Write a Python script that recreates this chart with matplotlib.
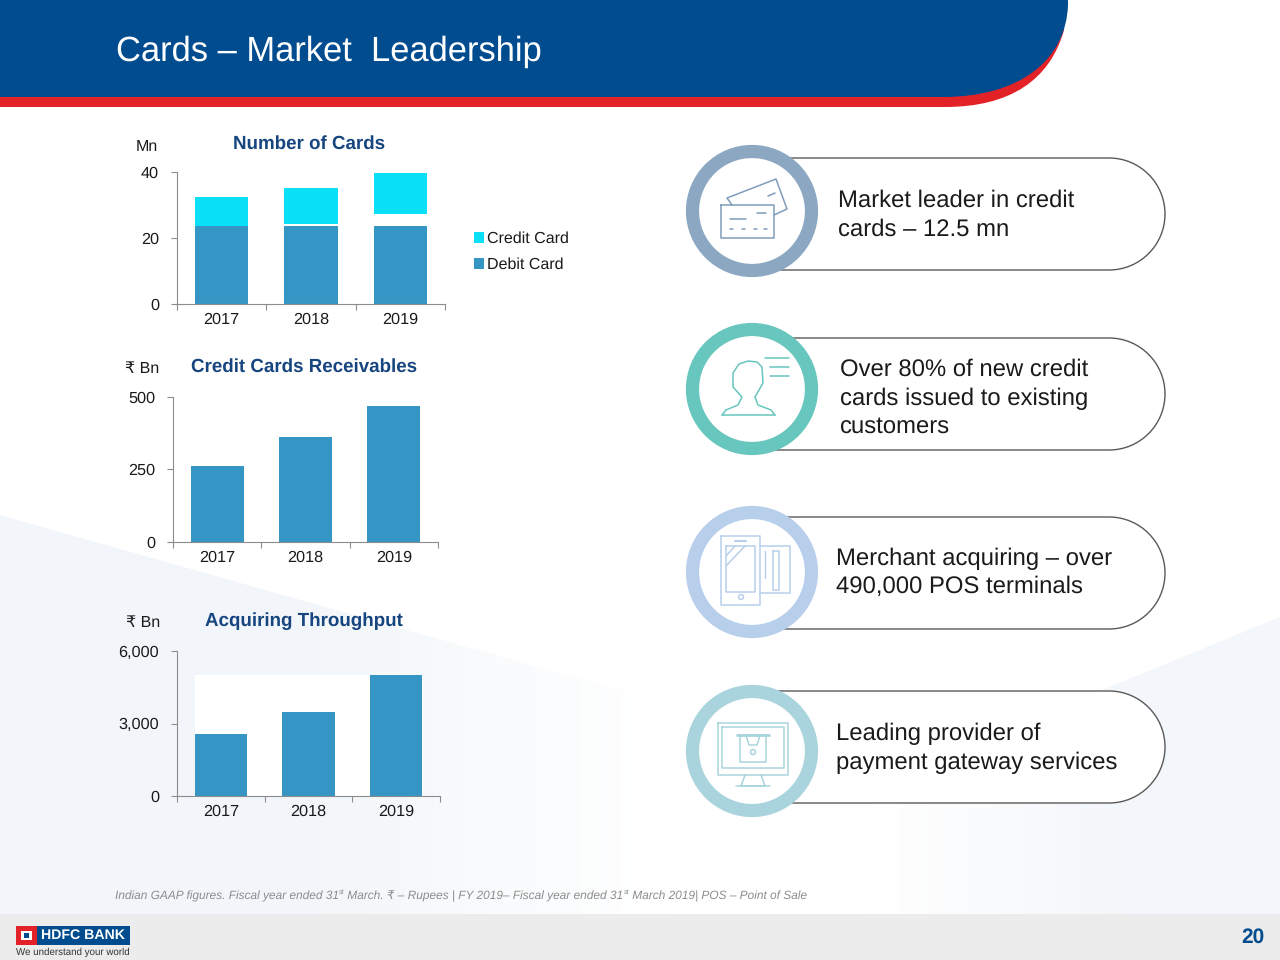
"""Cards - Market Leadership slide."""

import matplotlib
matplotlib.use('Agg')
import matplotlib.pyplot as plt
import numpy as np
from matplotlib.colors import LinearSegmentedColormap
from matplotlib.patches import Circle, PathPatch, Polygon, Rectangle
from matplotlib.path import Path

plt.rcParams['font.family'] = ['Liberation Sans', 'DejaVu Sans']
plt.rcParams['text.hinting'] = 'no_hinting'

years = ['2017', '2018', '2019']
debit_cards = [23.5, 23.5, 23.5]
credit_bottom = [23.5, 24.1, 27.1]
credit_top = [32.2, 35.0, 39.7]
receivables = [260, 361, 469]
throughput = [2565, 3475, 5007]

bullets = [
    ['Market leader in credit', 'cards – 12.5 mn'],
    ['Over 80% of new credit', 'cards issued to existing', 'customers'],
    ['Merchant acquiring – over', '490,000 POS terminals'],
    ['Leading provider of', 'payment gateway services'],
]

BLUE = '#004c8f'
BAR = '#3595c4'
CYAN = '#0ae0f8'
TITLE_BLUE = '#17457f'
TEXT = '#1a1a1a'

W, H = 1280, 960
fig = plt.figure(figsize=(12.8, 9.6), dpi=100, facecolor='white')

# whole slide in pixel coordinates for the decoration
bg = fig.add_axes([0, 0, 1, 1], zorder=0)
bg.axis('off')


def px_axes(left, top, right, bottom):
    return fig.add_axes([left / W, 1 - bottom / H, (right - left) / W, (bottom - top) / H],
                        zorder=2, facecolor='none')


def style_axes(ax, ymax, yticks):
    ax.set_xlim(-0.5, 2.5)
    ax.set_ylim(0, ymax)
    ax.set_yticks(yticks)
    ax.set_yticklabels([f'{t:,}' for t in yticks])
    ax.set_xticks([-0.5, 0.5, 1.5, 2.5])
    ax.set_xticklabels([])
    ax.set_xticks([0, 1, 2], minor=True)
    ax.set_xticklabels(years, minor=True)
    ax.spines['top'].set_visible(False)
    ax.spines['right'].set_visible(False)
    for side in ['left', 'bottom']:
        ax.spines[side].set_color('#8c8c8c')
        ax.spines[side].set_linewidth(0.8)
    ax.tick_params(axis='both', which='major', length=4, width=0.8, color='#8c8c8c',
                   labelsize=11.7, labelcolor=TEXT, pad=9)
    ax.tick_params(axis='x', which='major', length=4, pad=0)
    ax.tick_params(axis='x', which='minor', length=0, labelsize=11.7, labelcolor=TEXT, pad=6)


def label(x, y, s, size=11.5, color=TEXT, **kw):
    kw.setdefault('ha', 'left')
    kw.setdefault('va', 'center')
    return bg.text(x, y, s, fontsize=size, color=color, **kw)


def lines(points, color, lw=1.1, closed=False):
    xs = [p[0] for p in points]
    ys = [p[1] for p in points]
    if closed:
        xs.append(xs[0])
        ys.append(ys[0])
    bg.plot(xs, ys, color=color, lw=lw, solid_capstyle='round', zorder=6)


def box(x0, y0, x1, y1, color, lw=1.1):
    lines([(x0, y0), (x1, y0), (x1, y1), (x0, y1)], color, lw, closed=True)


# background, pale at both sides and fading out towards the middle
wash = LinearSegmentedColormap.from_list('wash', [(0, '#f2f6fa'), (0.25, '#f3f7fa'), (0.52, '#ffffff'),
                                                  (0.68, '#ffffff'), (0.9, '#f3f6fa'), (1, '#f3f6fa')])
img = bg.imshow(np.linspace(0, 1, 256).reshape(1, -1), cmap=wash, extent=(0, W, 914, 515),
                aspect='auto', zorder=0)
clip = Polygon([(0, 515), (905, 771), (1280, 617), (1280, 914), (0, 914)], fc='none', ec='none',
               transform=bg.transData)
bg.add_patch(clip)
img.set_clip_path(clip)
bg.set_xlim(0, W)
bg.set_ylim(H, 0)
bg.add_patch(Rectangle((0, 914), W, 46, fc='#ececec', ec='none', zorder=1))
bg.add_patch(Rectangle((195, 675), 228, 121, fc='white', ec='none', zorder=1))

# header band
red = Path([(0, 0), (1064, 0), (1064, 30), (1050, 80), (1010, 107), (945, 107), (0, 107), (0, 0)],
           [Path.MOVETO, Path.LINETO, Path.LINETO, Path.CURVE4, Path.CURVE4, Path.CURVE4, Path.LINETO,
            Path.CLOSEPOLY])
bg.add_patch(PathPatch(red, fc='#e32227', ec='none', zorder=2))
blue = Path([(0, 0), (1068, 0), (1068, 5), (1066, 60), (1020, 97), (943, 97), (0, 97), (0, 0)],
            [Path.MOVETO, Path.LINETO, Path.LINETO, Path.CURVE4, Path.CURVE4, Path.CURVE4, Path.LINETO,
             Path.CLOSEPOLY])
bg.add_patch(PathPatch(blue, fc=BLUE, ec='none', zorder=3))
label(116, 52, 'Cards – Market  Leadership', size=24.85, color='white', zorder=4)

# Number of Cards
ax1 = px_axes(177, 171.7, 445, 303.7)
style_axes(ax1, 40, [0, 20, 40])
credit_h = [t - b for t, b in zip(credit_top, credit_bottom)]
ax1.bar(years, debit_cards, width=0.6, color=BAR, label='Debit Card')
ax1.bar(years, credit_h, width=0.6, bottom=credit_bottom, color=CYAN, label='Credit Card')
handles, names = ax1.get_legend_handles_labels()
ax1.legend(handles[::-1], names[::-1], loc='center left', bbox_to_anchor=(474 / W, 1 - 252 / H),
           bbox_transform=fig.transFigure, frameon=False, fontsize=11.5, handlelength=0.62,
           handleheight=0.62, handletextpad=0.2, labelspacing=0.68, borderpad=0, borderaxespad=0,
           labelcolor=TEXT)
label(147, 147, 'Mn', ha='center')
label(309, 144, 'Number of Cards', size=13.5, color=TITLE_BLUE, ha='center', fontweight='bold')

# Credit Cards Receivables
ax2 = px_axes(173, 397, 438, 541.7)
style_axes(ax2, 500, [0, 250, 500])
ax2.bar(years, receivables, width=0.6, color=BAR)
label(142, 369, '₹ Bn', ha='center')
label(304, 366.5, 'Credit Cards Receivables', size=13.5, color=TITLE_BLUE, ha='center', fontweight='bold')

# Acquiring Throughput
ax3 = px_axes(177, 651, 440, 796)
style_axes(ax3, 6000, [0, 3000, 6000])
ax3.bar(years, throughput, width=0.6, color=BAR)
label(143, 623, '₹ Bn', ha='center')
label(304, 621, 'Acquiring Throughput', size=13.5, color=TITLE_BLUE, ha='center', fontweight='bold')

# bullet pills with rings
pills = [(158, 270, 211, '#8ba7c2', 838, [201, 230]),
         (338, 450, 389, '#67c6be', 840, [370, 399, 427]),
         (517, 629, 572, '#b8cfec', 836, [559, 587]),
         (691, 803, 751, '#a9d4de', 836, [734, 763])]
for (top, bottom, cy, ring, tx, tys), text_lines in zip(pills, bullets):
    r = (bottom - top) / 2
    mid = (top + bottom) / 2
    k = 0.5523 * r
    verts = [(770, top), (1165 - r, top),
             (1165 - r + k, top), (1165, mid - k), (1165, mid),
             (1165, mid + k), (1165 - r + k, bottom), (1165 - r, bottom),
             (770, bottom)]
    codes = [Path.MOVETO, Path.LINETO] + [Path.CURVE4] * 6 + [Path.LINETO]
    bg.add_patch(PathPatch(Path(verts, codes), fc='white', ec='#595959', lw=1.0, zorder=3))
    bg.add_patch(Circle((752, cy), 59.5, fc='white', ec=ring, lw=9.5, zorder=4))
    for ty, s in zip(tys, text_lines):
        label(tx, ty, s, size=17.2, color=TEXT, zorder=4)

# card icon
c = '#7f9cba'
box(721, 205, 774, 238, c)
lines([(730, 219), (746, 219)], c)
lines([(757, 213), (766, 213)], c)
for x in [730, 742, 754, 764]:
    lines([(x, 229), (x + 3, 229)], c)
lines([(732, 205), (727, 198), (776, 179), (787, 209), (774, 215)], c)
lines([(768, 196), (775, 193)], c)

# customer icon
c = '#67c6be'
lines([(722, 415), (726, 410), (738, 405), (742, 397), (733, 387), (733, 373), (739, 364), (748, 361),
       (757, 362), (762, 367), (763, 383), (755, 397), (758, 405), (771, 410), (775, 415)], c)
lines([(722, 415), (775, 415)], c)
lines([(765, 358), (789, 358)], c)
lines([(770, 367), (789, 367)], c)
lines([(770, 376), (789, 376)], c)

# phone and card icon
c = '#b8cfec'
box(721, 536, 760, 605, c)
box(726, 546, 755, 592, c)
bg.add_patch(Circle((741, 597), 2.5, fc='none', ec=c, lw=1.1, zorder=6))
lines([(735, 541), (746, 541)], c, lw=1.5)
lines([(726, 566), (745, 546)], c)
lines([(726, 556), (735, 546)], c)
lines([(760, 546), (790, 546), (790, 593), (760, 593)], c)
box(773, 551, 779, 590, c)
lines([(765, 551), (765, 578)], c, lw=1.0)

# atm monitor icon
c = '#a9d4de'
box(718, 723, 788, 775, c)
box(722, 727, 784, 768, c)
lines([(737, 735), (769, 735)], c, lw=2)
box(740, 735, 766, 762, c)
bg.add_patch(Circle((753, 752), 2.5, fc='none', ec=c, lw=1.1, zorder=6))
lines([(746, 735), (749, 745), (757, 745), (760, 735)], c)
lines([(745, 775), (741, 786), (765, 786), (761, 775)], c)
lines([(736, 786), (770, 786)], c)

# footnote, placed piece by piece so the superscripts can be smaller
note_parts = [('Indian GAAP figures. Fiscal year ended 31', False), ('st', True),
              (' March. ₹ – Rupees | FY 2019– Fiscal year ended 31', False), ('st', True),
              (' March 2019| POS – Point of Sale', False)]
renderer = fig.canvas.get_renderer()
note_x = 115
for part, is_super in note_parts:
    if is_super:
        t = bg.text(note_x, 892, part, fontsize=5, color='#8c8c8c', style='italic', ha='left', va='center')
    else:
        t = bg.text(note_x, 896, part, fontsize=8.52, color='#8c8c8c', style='italic', ha='left', va='center')
    note_x = t.get_window_extent(renderer).x1

# footer logo and page number
bg.add_patch(Rectangle((16, 926), 114, 19, fc=BLUE, ec='none', zorder=3))
bg.add_patch(Rectangle((16, 926), 21, 19, fc='#e32227', ec='none', zorder=4))
bg.add_patch(Rectangle((21, 931), 11, 9, fc='white', ec='none', zorder=5))
bg.add_patch(Rectangle((24, 933), 5, 5, fc=BLUE, ec='none', zorder=6))
label(41, 935, 'HDFC BANK', size=10.2, color='white', fontweight='bold', zorder=5)
label(16, 952, 'We understand your world', size=7, color='#333333')
label(1264, 937, '20', size=15, color=BLUE, fontweight='bold', ha='right')

fig.savefig('out.png', dpi=100)
plt.close(fig)
